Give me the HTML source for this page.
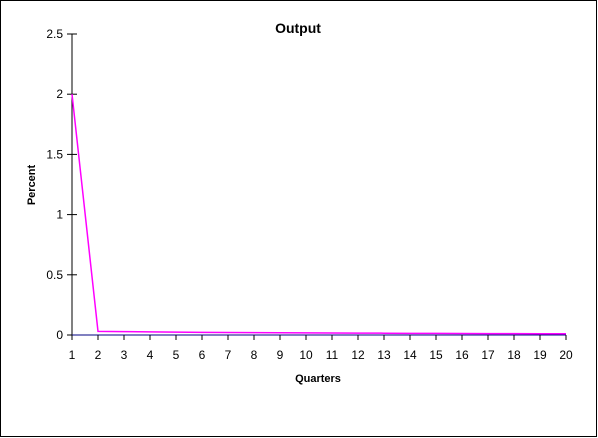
<!DOCTYPE html>
<html><head><meta charset="utf-8"><style>
body{margin:0;background:#fff}
svg{display:block;font-family:"Liberation Sans",Arial,sans-serif}
</style></head><body>
<svg id="chart" width="598" height="438" viewBox="0 0 598 438">
<rect x="0.5" y="0.5" width="596" height="436" fill="#fff" stroke="#000" stroke-width="1"/>
<text x="298" y="33" text-anchor="middle" font-size="14" font-weight="bold">Output</text>
<text transform="translate(35,185) rotate(-90)" text-anchor="middle" font-size="11" font-weight="bold">Percent</text>
<text x="318" y="382" text-anchor="middle" font-size="11" font-weight="bold">Quarters</text>
<g id="axes"></g>
<g id="marks"></g>
</svg>
<script>
const quarters=[1,2,3,4,5,6,7,8,9,10,11,12,13,14,15,16,17,18,19,20];
const outputValues=[2.0,0.03,0.028,0.026,0.024,0.022,0.021,0.02,0.019,0.018,0.017,0.016,0.015,0.014,0.013,0.012,0.011,0.011,0.01,0.01];
const yTicks=[0,0.5,1,1.5,2,2.5];
const yTickLabels=["0","0.5","1","1.5","2","2.5"];
const NS="http://www.w3.org/2000/svg";
const x0=72,x1=566,yB=335,yT=34,yMax=2.5;
function xs(q){return x0+(q-1)*(x1-x0)/(quarters.length-1);}
function ys(v){return yB-v*(yB-yT)/yMax;}
const axes=document.getElementById('axes'),marks=document.getElementById('marks');
function mk(tag,attrs,parent){const e=document.createElementNS(NS,tag);for(const k in attrs)e.setAttribute(k,attrs[k]);parent.appendChild(e);return e;}
let yl=mk('line',{x1:x0,y1:yT,x2:x0,y2:yB,stroke:'#000'},axes);


yTicks.forEach((v,i)=>{
  let t=mk('line',{x1:x0-5,y1:ys(v),x2:x0+5,y2:ys(v),stroke:'#000'},axes);
  
  
  let l=mk('text',{x:x0-9,y:ys(v)+4,'text-anchor':'end','font-size':'12'},axes);
  l.textContent=yTickLabels[i];
  
  
});
let xl=mk('line',{x1:x0,y1:yB,x2:x1,y2:yB,stroke:'#000080'},axes);


quarters.forEach(q=>{
  let t=mk('line',{x1:xs(q),y1:yB,x2:xs(q),y2:yB+5,stroke:'#000'},axes);
  
  
  let l=mk('text',{x:xs(q),y:yB+24,'text-anchor':'middle','font-size':'12'},axes);
  l.textContent=q;
  
  
});
let pts=quarters.map((q,i)=>xs(q)+','+ys(outputValues[i])).join(' ');
let line=mk('polyline',{points:pts,fill:'none',stroke:'#ff00ff','stroke-width':'1.5'},marks);


</script>
</body></html>
